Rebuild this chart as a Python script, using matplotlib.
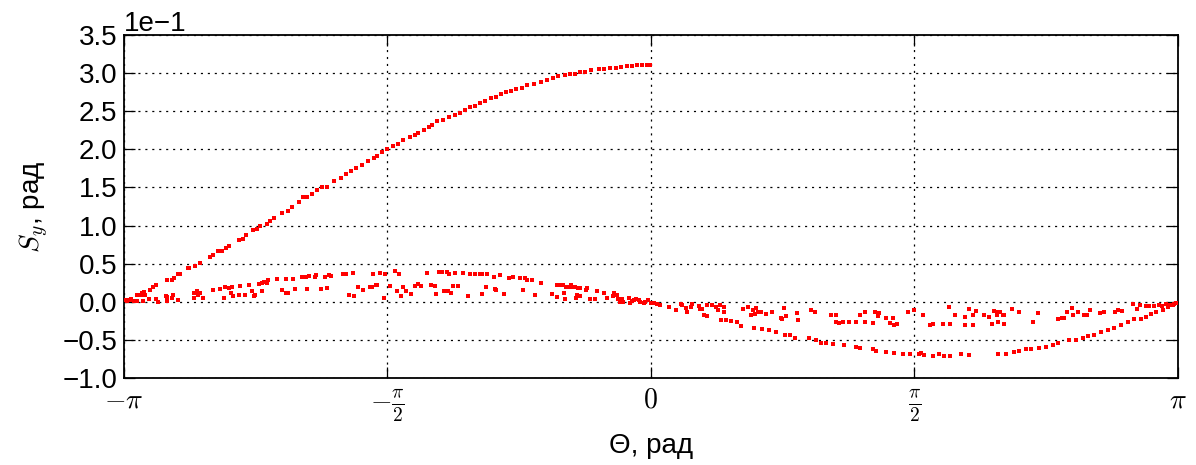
import numpy as np
import matplotlib

matplotlib.use("Agg")
import matplotlib.pyplot as plt

plt.rcParams["font.family"] = ["Liberation Sans", "DejaVu Sans"]
plt.rcParams["mathtext.fontset"] = "cm"
plt.rcParams["lines.scale_dashes"] = False

# ---------------------------------------------------------------------------
# Data: (theta [rad], S_y [1e-1 rad])
# ---------------------------------------------------------------------------

upper_branch = [
    (-3.127, 0.02), (-3.097, 0.03), (-3.067, 0.09), (-3.037, 0.12), (-3.023, 0.13),
    (-2.988, 0.15), (-2.968, 0.19), (-2.948, 0.22), (-2.888, 0.28), (-2.858, 0.28),
    (-2.842, 0.31), (-2.819, 0.36), (-2.808, 0.36), (-2.759, 0.44), (-2.751, 0.44),
    (-2.721, 0.47), (-2.686, 0.51), (-2.628, 0.59), (-2.608, 0.62), (-2.581, 0.66),
    (-2.556, 0.67), (-2.536, 0.71), (-2.515, 0.73), (-2.454, 0.81), (-2.433, 0.83),
    (-2.413, 0.88), (-2.372, 0.94), (-2.351, 0.96), (-2.330, 0.99), (-2.289, 1.02),
    (-2.269, 1.06), (-2.248, 1.10), (-2.197, 1.17), (-2.166, 1.19), (-2.140, 1.25),
    (-2.098, 1.31), (-2.074, 1.37), (-2.053, 1.38), (-2.022, 1.42), (-1.992, 1.46),
    (-1.961, 1.50), (-1.930, 1.51), (-1.889, 1.58), (-1.848, 1.63), (-1.817, 1.68),
    (-1.786, 1.72), (-1.756, 1.75), (-1.725, 1.80), (-1.684, 1.85), (-1.653, 1.89),
    (-1.632, 1.91), (-1.602, 1.97), (-1.571, 2.01), (-1.540, 2.04), (-1.509, 2.07),
    (-1.478, 2.12), (-1.437, 2.16), (-1.407, 2.19), (-1.386, 2.22), (-1.355, 2.26),
    (-1.324, 2.29), (-1.304, 2.32), (-1.273, 2.37), (-1.242, 2.39), (-1.201, 2.43),
    (-1.170, 2.45), (-1.140, 2.48), (-1.109, 2.52), (-1.078, 2.55), (-1.047, 2.57),
    (-1.016, 2.61), (-0.986, 2.64), (-0.955, 2.67), (-0.924, 2.69), (-0.893, 2.72),
    (-0.862, 2.75), (-0.832, 2.76), (-0.801, 2.79), (-0.770, 2.81), (-0.739, 2.84),
    (-0.698, 2.86), (-0.657, 2.88), (-0.616, 2.91), (-0.585, 2.93), (-0.554, 2.96),
    (-0.513, 2.97), (-0.483, 2.99), (-0.452, 2.99), (-0.421, 3.01), (-0.390, 3.02),
    (-0.359, 3.04), (-0.308, 3.05), (-0.277, 3.06), (-0.246, 3.07), (-0.205, 3.07),
    (-0.175, 3.08), (-0.144, 3.09), (-0.113, 3.09), (-0.082, 3.10), (-0.051, 3.10),
    (-0.021, 3.10), (-0.005, 3.10),
]

left_cloud = [
    (-3.122, 0.01), (-3.103, 0.02), (-3.083, 0.01), (-3.063, 0.01), (-3.043, 0.09),
    (-3.027, 0.01), (-3.019, 0.09), (-2.993, 0.04), (-2.953, 0.03), (-2.940, 0.00),
    (-2.894, 0.08), (-2.888, 0.06), (-2.888, 0.01), (-2.858, 0.05), (-2.850, 0.09),
    (-2.820, 0.02), (-2.725, 0.11), (-2.725, 0.05), (-2.705, 0.14), (-2.699, 0.09),
    (-2.689, 0.11), (-2.669, 0.05), (-2.609, 0.15), (-2.570, 0.17), (-2.546, 0.05),
    (-2.540, 0.20), (-2.516, 0.18), (-2.506, 0.11), (-2.496, 0.19), (-2.490, 0.08),
    (-2.456, 0.09), (-2.450, 0.21), (-2.420, 0.09), (-2.397, 0.22), (-2.377, 0.14),
    (-2.367, 0.08), (-2.361, 0.09), (-2.337, 0.23), (-2.317, 0.25), (-2.317, 0.14),
    (-2.307, 0.26), (-2.287, 0.25), (-2.281, 0.28), (-2.227, 0.30), (-2.198, 0.15),
    (-2.178, 0.30), (-2.174, 0.11), (-2.162, 0.11), (-2.132, 0.30), (-2.122, 0.17),
    (-2.078, 0.33), (-2.054, 0.33), (-2.048, 0.17), (-2.038, 0.34), (-2.003, 0.33),
    (-1.995, 0.35), (-1.969, 0.17), (-1.945, 0.33), (-1.929, 0.18), (-1.919, 0.35),
    (-1.909, 0.34), (-1.834, 0.36), (-1.820, 0.36), (-1.800, 0.09), (-1.774, 0.38),
    (-1.770, 0.07), (-1.746, 0.19), (-1.716, 0.15), (-1.675, 0.20), (-1.661, 0.20),
    (-1.657, 0.36), (-1.641, 0.22), (-1.635, 0.22), (-1.615, 0.38), (-1.591, 0.05),
    (-1.585, 0.36), (-1.555, 0.21), (-1.525, 0.41), (-1.516, 0.14), (-1.502, 0.36),
    (-1.492, 0.07), (-1.478, 0.20), (-1.462, 0.14), (-1.428, 0.10), (-1.406, 0.21),
    (-1.388, 0.23), (-1.372, 0.21), (-1.332, 0.38), (-1.313, 0.22), (-1.287, 0.21),
    (-1.283, 0.10), (-1.263, 0.39), (-1.243, 0.39), (-1.233, 0.14), (-1.213, 0.39),
    (-1.209, 0.14), (-1.203, 0.36), (-1.193, 0.12), (-1.177, 0.21), (-1.168, 0.38),
    (-1.150, 0.21), (-1.118, 0.38), (-1.090, 0.07), (-1.078, 0.36), (-1.048, 0.36),
    (-1.020, 0.36), (-1.008, 0.10), (-1.004, 0.36), (-0.983, 0.20), (-0.975, 0.36),
    (-0.935, 0.32), (-0.929, 0.17), (-0.925, 0.15), (-0.899, 0.35), (-0.875, 0.10),
    (-0.845, 0.31), (-0.822, 0.33), (-0.780, 0.31), (-0.762, 0.15), (-0.750, 0.31),
    (-0.740, 0.29), (-0.706, 0.28), (-0.690, 0.09), (-0.656, 0.25), (-0.591, 0.10),
    (-0.561, 0.22), (-0.557, 0.06), (-0.547, 0.22), (-0.521, 0.22), (-0.517, 0.11),
    (-0.511, 0.04), (-0.507, 0.20), (-0.493, 0.19), (-0.477, 0.22), (-0.471, 0.19),
    (-0.452, 0.19), (-0.447, 0.05), (-0.437, 0.09), (-0.434, 0.18), (-0.422, 0.18),
    (-0.422, 0.08), (-0.388, 0.15), (-0.378, 0.18), (-0.362, 0.04), (-0.332, 0.04),
    (-0.322, 0.14), (-0.279, 0.12), (-0.258, 0.05), (-0.225, 0.07), (-0.219, 0.11),
    (-0.209, 0.09), (-0.199, 0.09), (-0.193, 0.04), (-0.183, 0.00), (-0.179, 0.03),
    (-0.169, 0.03), (-0.163, 0.00), (-0.129, 0.05), (-0.123, -0.02), (-0.109, 0.01),
    (-0.099, 0.02), (-0.085, 0.04), (-0.073, 0.02), (-0.064, 0.00), (-0.040, -0.01),
    (-0.034, 0.00), (-0.016, 0.02), (-0.014, 0.02), (0.000, -0.01),
]

lower_branch = [
    (0.010, -0.02), (0.020, -0.02), (0.040, -0.03), (0.054, -0.04), (0.109, -0.07),
    (0.149, -0.11), (0.219, -0.14), (0.318, -0.18), (0.338, -0.19), (0.418, -0.24),
    (0.447, -0.24), (0.477, -0.25), (0.517, -0.27), (0.537, -0.32), (0.617, -0.34),
    (0.666, -0.36), (0.706, -0.37), (0.746, -0.39), (0.800, -0.43), (0.831, -0.44),
    (0.861, -0.47), (0.945, -0.48), (0.985, -0.50), (1.014, -0.54), (1.044, -0.54),
    (1.084, -0.55), (1.153, -0.57), (1.223, -0.59), (1.247, -0.61), (1.323, -0.62),
    (1.343, -0.64), (1.402, -0.66), (1.452, -0.67), (1.502, -0.68), (1.547, -0.68),
    (1.597, -0.68), (1.611, -0.67), (1.631, -0.70), (1.681, -0.71), (1.720, -0.68),
    (1.750, -0.71), (1.786, -0.71), (1.850, -0.69), (1.900, -0.70), (2.069, -0.69),
    (2.118, -0.68), (2.168, -0.66), (2.198, -0.64), (2.237, -0.62), (2.267, -0.62),
    (2.317, -0.60), (2.357, -0.59), (2.397, -0.57), (2.427, -0.54), (2.496, -0.50),
    (2.536, -0.50), (2.576, -0.48), (2.606, -0.45), (2.645, -0.43), (2.685, -0.40),
    (2.725, -0.37), (2.764, -0.34), (2.804, -0.31), (2.844, -0.27), (2.884, -0.23),
    (2.924, -0.23), (2.953, -0.20), (2.983, -0.16), (3.013, -0.13), (3.053, -0.11),
    (3.083, -0.07), (3.113, -0.04), (3.130, -0.02),
]

right_cloud = [
    (0.179, -0.03), (0.189, -0.04), (0.209, -0.08), (0.239, -0.07), (0.249, -0.03),
    (0.288, -0.05), (0.294, -0.10), (0.308, -0.10), (0.334, -0.04), (0.368, -0.04),
    (0.388, -0.07), (0.402, -0.11), (0.414, -0.04), (0.437, -0.07), (0.437, -0.13),
    (0.553, -0.10), (0.581, -0.07), (0.597, -0.17), (0.607, -0.11), (0.622, -0.16),
    (0.627, -0.08), (0.637, -0.13), (0.656, -0.14), (0.688, -0.16), (0.726, -0.13),
    (0.776, -0.21), (0.780, -0.23), (0.795, -0.08), (0.807, -0.19), (0.873, -0.15),
    (0.879, -0.24), (0.955, -0.11), (0.980, -0.13), (1.074, -0.18), (1.104, -0.18),
    (1.104, -0.27), (1.120, -0.28), (1.147, -0.26), (1.183, -0.27), (1.223, -0.27),
    (1.249, -0.18), (1.277, -0.14), (1.277, -0.27), (1.323, -0.28), (1.338, -0.13),
    (1.353, -0.19), (1.362, -0.15), (1.404, -0.21), (1.428, -0.28), (1.442, -0.21),
    (1.448, -0.30), (1.468, -0.29), (1.532, -0.14), (1.571, -0.11), (1.621, -0.18),
    (1.667, -0.30), (1.681, -0.29), (1.744, -0.29), (1.780, -0.07), (1.786, -0.29),
    (1.816, -0.18), (1.875, -0.20), (1.875, -0.31), (1.900, -0.10), (1.920, -0.18),
    (1.920, -0.31), (1.941, -0.12), (1.989, -0.18), (2.018, -0.20), (2.035, -0.29),
    (2.045, -0.12), (2.063, -0.17), (2.069, -0.13), (2.072, -0.27), (2.080, -0.14),
    (2.098, -0.18), (2.108, -0.18), (2.108, -0.29), (2.154, -0.10), (2.198, -0.13),
    (2.281, -0.26), (2.307, -0.15), (2.427, -0.23), (2.452, -0.21), (2.466, -0.21),
    (2.481, -0.14), (2.510, -0.08), (2.516, -0.18), (2.546, -0.13), (2.582, -0.18),
    (2.602, -0.17), (2.621, -0.11), (2.681, -0.15), (2.705, -0.13), (2.770, -0.14),
    (2.788, -0.11), (2.808, -0.12), (2.877, -0.03), (2.900, -0.10), (2.919, -0.04),
    (2.953, -0.06), (2.973, -0.06), (3.003, -0.05), (3.033, -0.04), (3.049, -0.05),
    (3.073, -0.03), (3.099, -0.04), (3.123, -0.03),
]

x_ticks = [-np.pi, -np.pi / 2, 0, np.pi / 2, np.pi]
x_tick_labels = [r"$-\pi$", r"$-\frac{\pi}{2}$", r"$0$", r"$\frac{\pi}{2}$", r"$\pi$"]
y_ticks = [-1.0, -0.5, 0.0, 0.5, 1.0, 1.5, 2.0, 2.5, 3.0, 3.5]
SCALE = 1e-1

# ---------------------------------------------------------------------------
# Plot
# ---------------------------------------------------------------------------

fig = plt.figure(figsize=(11.96, 4.65), dpi=100, facecolor="white")
ax = fig.add_axes([124 / 1196, 1 - 378 / 465, 1053.5 / 1196, 343 / 465])

for group in (upper_branch, left_cloud, lower_branch, right_cloud):
    th, s = zip(*group)
    ax.plot(th, np.array(s) * SCALE, linestyle="none", marker="s",
            markersize=3.0, markeredgewidth=0, color="#ff0000", zorder=3)

ax.set_xlim(-np.pi, np.pi)
ax.set_ylim(-1.0 * SCALE, 3.5 * SCALE)
ax.set_xticks(x_ticks)
ax.set_xticklabels(x_tick_labels)
ax.set_yticks(np.array(y_ticks) * SCALE)
ax.ticklabel_format(axis="y", style="sci", scilimits=(0, 0))

ax.grid(True, color="black", linewidth=0.9, linestyle=(0, (1.5, 3.5)))
ax.set_axisbelow(True)
for sp in ax.spines.values():
    sp.set_linewidth(1.3)

ax.tick_params(direction="in", length=8, width=0.9, top=True, right=True)
ax.tick_params(axis="y", labelsize=20, pad=5)
ax.tick_params(axis="x", labelsize=20, pad=7)
ax.yaxis.get_offset_text().set_fontsize(20)

ax.set_xlabel("Θ, рад", fontsize=20, labelpad=6)
ax.set_ylabel(r"$S_y$, рад", fontsize=20, labelpad=8)

fig.savefig("out.png", dpi=100)
plt.close(fig)
